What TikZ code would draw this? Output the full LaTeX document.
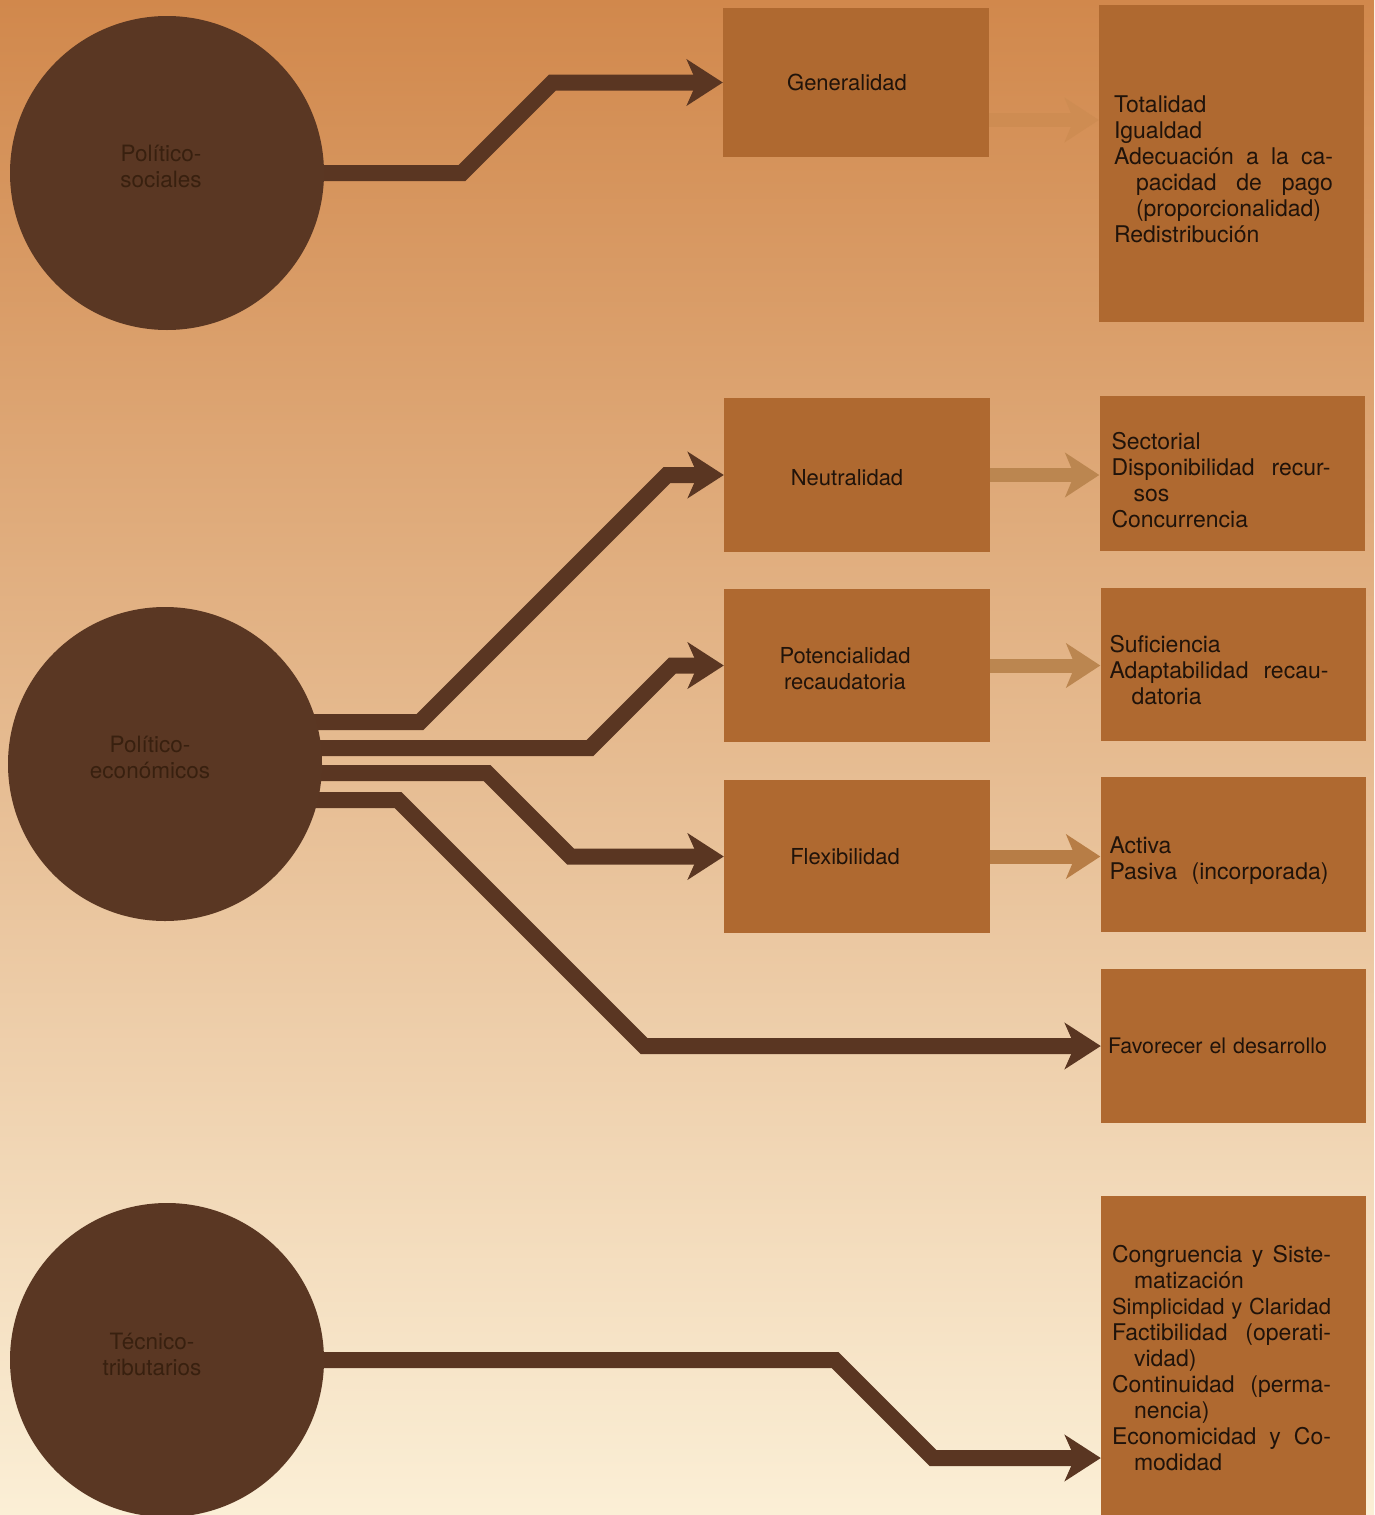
\documentclass[tikz,border=0pt]{standalone}
\usepackage{fontspec}
\setmainfont{TeX Gyre Heros}
\usetikzlibrary{arrows.meta}
\definecolor{bgtop}{HTML}{D1884C}
\definecolor{bgmid}{HTML}{EFCAA2}
\definecolor{bgbot}{HTML}{FBEFD6}
\definecolor{circfill}{HTML}{5A3723}
\definecolor{circtext}{HTML}{38200F}
\definecolor{arrowdark}{HTML}{5A3622}
\definecolor{arrowlight}{HTML}{BB8650}
\definecolor{arrowfaint}{HTML}{CE8C52}
\definecolor{boxfill}{HTML}{AF6930}
\definecolor{ink}{HTML}{20130A}
\newcommand{\jline}[1]{\hbox to 219pt{\spaceskip=0.28em plus 1fil\relax #1}}
\newcommand{\ijline}[1]{\hspace*{22pt}\hbox to 197pt{\spaceskip=0.28em plus 1fil\relax #1}}
\newcommand{\iline}[1]{\hspace*{22pt}#1}
\pgfdeclarelayer{bglayer}
\pgfdeclarelayer{lines}
\pgfsetlayers{bglayer,lines,main}
\begin{document}
\begin{tikzpicture}[x=1pt,y=-1pt,
  circ/.style={circle, fill=circfill, minimum size=314pt, inner sep=0pt},
  ctext/.style={text=circtext, font=\fontsize{22.5}{26}\selectfont, align=center, inner sep=0pt},
  midbox/.style={rectangle, fill=boxfill, minimum width=266pt, inner sep=0pt},
  mtext/.style={align=center, text=ink, font=\fontsize{22}{26}\selectfont, inner sep=0pt},
  rbox/.style={rectangle, fill=boxfill, minimum width=265pt, inner sep=0pt},
  rtext/.style={align=left, anchor=west, text=ink, font=\fontsize{23}{26}\selectfont, inner sep=0pt},
  bigarrow/.style={draw=arrowdark, line width=16pt, line join=miter,
    -{Stealth[length=36pt,width=46pt,inset=10pt]}},
  smallarrow/.style={draw=arrowlight, line width=14pt,
    -{Stealth[length=34pt,width=44pt,inset=9pt]}}
]
\useasboundingbox (0,0) rectangle (1374,1515);
\begin{pgfonlayer}{bglayer}
  \shade[top color=bgtop, middle color=bgmid, bottom color=bgbot] (0,0) rectangle (1374,1515);
\end{pgfonlayer}

% circles
\node[circ] (c1) at (167,173) {};
\node[circ] (c2) at (165,764) {};
\node[circ] (c3) at (167,1360) {};
\node[ctext] (c1t) at ([xshift=-6pt,yshift=7pt]c1.center) {Político-\\sociales};
\node[ctext] (c2t) at ([xshift=-15pt,yshift=7pt]c2.center) {Político-\\económicos};
\node[ctext] (c3t) at ([xshift=-15pt,yshift=6pt]c3.center) {Técnico-\\tributarios};

% middle boxes
\node[midbox, minimum height=149pt] (gen) at (856,82.5) {};
\node[midbox, minimum height=154pt] (neu) at (857,475) {};
\node[midbox, minimum height=153pt] (pot) at (857,665.5) {};
\node[midbox, minimum height=153pt] (flex) at (857,856.5) {};
\node[mtext] (gent) at ([xshift=-9pt]gen.center) {Generalidad};
\node[mtext] (neut) at ([xshift=-10pt,yshift=-3pt]neu.center) {Neutralidad};
\node[mtext] (pott) at ([xshift=-12pt,yshift=-3pt]pot.center) {Potencialidad\\recaudatoria};
\node[mtext] (flext) at ([xshift=-12pt,yshift=0pt]flex.center) {Flexibilidad};

% right boxes
\node[rbox, minimum height=317pt] (tot) at (1231.5,163.5) {};
\node[rbox, minimum height=155pt] (sec) at (1232,473.5) {};
\node[rbox, minimum height=153pt] (suf) at (1233,664.5) {};
\node[rbox, minimum height=155pt] (act) at (1233,854.5) {};
\node[rbox, minimum height=154pt] (fav) at (1233.5,1046) {};
\node[rbox, minimum height=319pt] (cong) at (1233.5,1355.5) {};

\node[rtext] (tott) at ([xshift=15pt,yshift=-6pt]tot.west) {Totalidad\\
  Igualdad\\
  \jline{Adecuación a la ca-}\\
  \ijline{pacidad de pago}\\
  \iline{(proporcionalidad)}\\
  Redistribución};
\node[rtext] (sect) at ([xshift=12pt,yshift=-7pt]sec.west) {Sectorial\\
  \jline{Disponibilidad recur-}\\
  \iline{sos}\\
  Concurrencia};
\node[rtext] (suft) at ([xshift=9pt,yshift=-6pt]suf.west) {Suficiencia\\
  \jline{Adaptabilidad recau-}\\
  \iline{datoria}};
\node[rtext] (actt) at ([xshift=9pt,yshift=-6pt]act.west) {Activa\\
  \jline{Pasiva (incorporada)}};
\node[rtext] (favt) at ([xshift=7pt,yshift=0pt]fav.west) {\fontsize{21.4}{26}\selectfont\jline{Favorecer el desarrollo}};
\node[rtext] (congt) at ([xshift=11pt,yshift=-3pt]cong.west) {\jline{Congruencia y Siste-}\\
  \iline{matización}\\
  {\fontsize{22}{26}\selectfont\jline{Simplicidad y Claridad}}\\
  \jline{Factibilidad (operati-}\\
  \iline{vidad)}\\
  \jline{Continuidad (perma-}\\
  \iline{nencia)}\\
  \jline{Economicidad y Co-}\\
  \iline{modidad}};

\begin{pgfonlayer}{lines}
  \draw[bigarrow] (c1.center) -- (462,173) -- (552.5,82.5) -- (gen.west);
  \draw[bigarrow] ([yshift=42pt]c2.center) -- (420,722) -- (667,475) -- (neu.west);
  \draw[bigarrow] ([yshift=16pt]c2.center) -- (590,748) -- (672.5,665.5) -- (pot.west);
  \draw[bigarrow] ([yshift=-9pt]c2.center) -- (487,773) -- (570.5,856.5) -- (flex.west);
  \draw[bigarrow] ([yshift=-36pt]c2.center) -- (398,800) -- (644,1046) -- (fav.west);
  \draw[bigarrow] (c3.center) -- (835,1360) -- (933,1458) -- ([yshift=-102.5pt]cong.west);

  \draw[smallarrow, draw=arrowfaint] ([yshift=-37.5pt]gen.east) -- ([yshift=-37.5pt]gen.east -| tot.west);
  \draw[smallarrow] (neu.east) -- (neu.east -| sec.west);
  \draw[smallarrow] (pot.east) -- (pot.east -| suf.west);
  \draw[smallarrow, draw=arrowlight!70!boxfill] (flex.east) -- (flex.east -| act.west);
\end{pgfonlayer}
\end{tikzpicture}
\end{document}
